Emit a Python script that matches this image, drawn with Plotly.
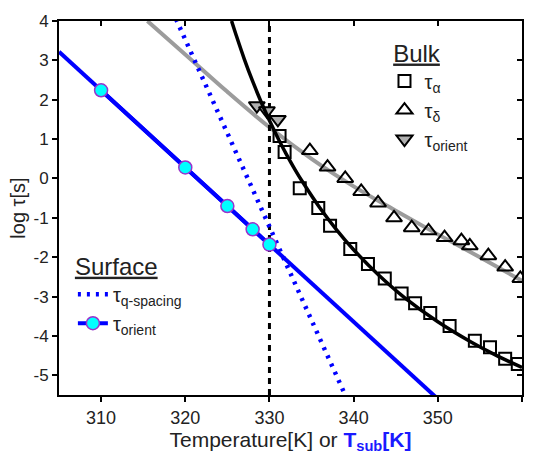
import plotly.graph_objects as go

# ---- data ----
# Bulk tau_alpha (open squares)
alpha_T = [331.2, 331.8, 333.6, 335.8, 337.2, 339.6, 341.7, 343.7, 345.7, 347.3, 349.1, 351.4, 354.4, 356.2, 358.0, 359.5]
alpha_y = [1.08, 0.67, -0.25, -0.75, -1.2, -1.79, -2.17, -2.54, -2.92, -3.17, -3.42, -3.75, -4.12, -4.29, -4.58, -4.71]
# Bulk tau_delta (open up-triangles)
delta_T = [334.8, 336.9, 339.0, 340.9, 342.9, 344.8, 346.9, 348.9, 350.8, 352.8, 353.8, 356.0, 358.0, 359.8]
delta_y = [0.71, 0.29, 0.0, -0.33, -0.62, -1.0, -1.25, -1.33, -1.5, -1.58, -1.71, -1.96, -2.25, -2.54]
# Bulk tau_orient (grey down-triangles)
borient_T = [328.5, 329.7, 331.0]
borient_y = [1.85, 1.72, 1.5]
# Black fit curve through tau_alpha
alphafit_T = [325.5, 326, 327, 328, 329, 330, 331, 332, 333, 334, 336, 338, 340, 343, 346, 350, 354, 357, 360]
alphafit_y = [4.0, 3.67, 3.04, 2.47, 1.95, 1.47, 1.03, 0.62, 0.24, -0.11, -0.75, -1.31, -1.81, -2.46, -3.02, -3.64, -4.16, -4.50, -4.80]
# Grey fit curve through tau_delta
deltafit_T = [315.5, 320, 325, 330, 335, 340, 345, 350, 355, 360]
deltafit_y = [4.0, 3.15, 2.2, 1.3, 0.5, -0.2, -0.82, -1.42, -2.0, -2.6]
# Surface tau_orient (cyan circles) and its linear fit
sorient_T = [310, 320, 325, 328, 330]
sorient_y = [2.24, 0.28, -0.70, -1.29, -1.68]
sfit_T = [305, 350]
sfit_y = [3.22, -5.60]
# Surface tau_q-spacing (dotted line)
qsp_T = [318.9, 339.1]
qsp_y = [4.05, -5.55]
# Vertical dashed marker at 330 K
vline_T = [330, 330]
vline_y = [-5.5, 4.0]

x_ticks = [310, 320, 330, 340, 350, 360]
y_ticks = [-5, -4, -3, -2, -1, 0, 1, 2, 3, 4]
y_ticktext = ["-5", "-4", "-3", "-2", "-1", "0", "1", "2", "3", "4"]
x_range = [305, 360]
y_range = [-5.5, 4.0]

FONT = "Liberation Sans, Arial, sans-serif"

fig = go.Figure()

# fit curves
fig.add_trace(go.Scatter(x=deltafit_T, y=deltafit_y, mode="lines", line=dict(color="#9c9c9c", width=4, shape="spline"),
                         showlegend=False, hoverinfo="skip"))
fig.add_trace(go.Scatter(x=vline_T, y=vline_y, mode="lines", line=dict(color="black", width=3, dash="6px,5px"),
                         showlegend=False, hoverinfo="skip"))
fig.add_trace(go.Scatter(x=sfit_T, y=sfit_y, mode="lines", line=dict(color="#0000ff", width=4),
                         showlegend=False, hoverinfo="skip"))

# bulk markers
fig.add_trace(go.Scatter(x=alpha_T, y=alpha_y, mode="markers", name="τ<sub>α</sub>", legend="legend",
                         marker=dict(symbol="square-open", size=12, color="black", line=dict(width=2, color="black"))))
fig.add_trace(go.Scatter(x=delta_T, y=delta_y, mode="markers", name="τ<sub>δ</sub>", legend="legend",
                         marker=dict(symbol="triangle-up-open", size=14, color="black", line=dict(width=2, color="black"))))
fig.add_trace(go.Scatter(x=borient_T, y=borient_y, mode="markers", name="τ<sub>orient</sub>", legend="legend",
                         marker=dict(symbol="triangle-down", size=14, color="#b0b0b0", line=dict(width=2, color="black"))))

fig.add_trace(go.Scatter(x=alphafit_T, y=alphafit_y, mode="lines", line=dict(color="black", width=3.5, shape="spline"),
                         showlegend=False, hoverinfo="skip"))

# surface
fig.add_trace(go.Scatter(x=qsp_T, y=qsp_y, mode="lines", name="τ<sub>q-spacing</sub>", legend="legend2",
                         line=dict(color="#0000ff", width=4.5, dash="3px,6px")))
fig.add_trace(go.Scatter(x=sorient_T, y=sorient_y, mode="lines+markers", name="τ<sub>orient</sub>", legend="legend2",
                         line=dict(color="#0000ff", width=4),
                         marker=dict(symbol="circle", size=13, color="#00ffff", line=dict(width=1.5, color="#9933cc"))))

# dummy trace to activate mirror axes
fig.add_trace(go.Scatter(x=[x_range[0]], y=[y_range[0]], xaxis="x2", yaxis="y2", mode="markers",
                         marker=dict(opacity=0), showlegend=False, hoverinfo="skip"))

axis_common = dict(showgrid=False, zeroline=False, showline=True, linecolor="black", linewidth=2,
                   tickcolor="black", tickwidth=1.5, ticklen=5)

fig.update_layout(
    width=535, height=456,
    margin=dict(l=59, r=13, t=14, b=61),
    paper_bgcolor="white", plot_bgcolor="white",
    font=dict(family=FONT, color="#222222"),
    xaxis=dict(range=x_range, tickvals=x_ticks, ticks="outside", tickfont=dict(size=18),
               title=dict(text="Temperature[K] or <span style='color:#1a1aff'><b>T<sub>sub</sub>[K]</b></span>",
                          font=dict(size=21), standoff=0),
               **axis_common),
    yaxis=dict(range=y_range, tickvals=y_ticks, ticktext=y_ticktext, ticks="outside", tickfont=dict(size=17),
               title=dict(text="log τ[s]", font=dict(size=20), standoff=2),
               **axis_common),
    xaxis2=dict(range=x_range, tickvals=x_ticks, ticks="inside", overlaying="x", side="top", anchor="y",
                showticklabels=False, **axis_common),
    yaxis2=dict(range=y_range, tickvals=y_ticks, ticks="inside", overlaying="y", side="right", anchor="x",
                showticklabels=False, **axis_common),
    legend=dict(x=0.703, y=0.975, xanchor="left", yanchor="top", bgcolor="rgba(0,0,0,0)",
                title=dict(text=" <u>Bulk</u>", font=dict(size=24)), font=dict(size=20), tracegroupgap=0),
    legend2=dict(x=0.03, y=0.405, xanchor="left", yanchor="top", bgcolor="rgba(0,0,0,0)",
                 title=dict(text="<u>Surface</u>", font=dict(size=24)), font=dict(size=20), tracegroupgap=0),
)

fig.write_html("out.html")
